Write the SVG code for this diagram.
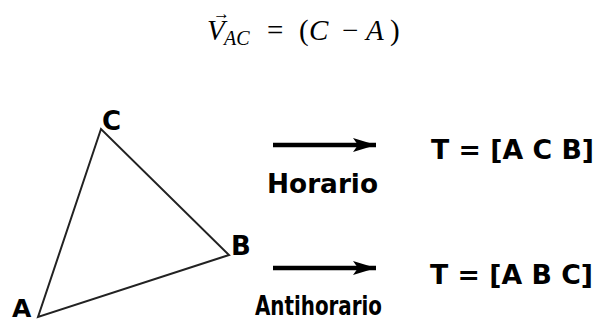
<svg xmlns="http://www.w3.org/2000/svg" width="599" height="320" viewBox="0 0 599 320">
<style>
.lbl{font-family:"DejaVu Sans",Verdana,sans-serif;font-weight:bold;fill:#000}
.m{font-family:"Liberation Serif","Times New Roman",serif;fill:#000}
.it{font-style:italic}
.edge{fill:none;stroke:#222;stroke-width:2;stroke-linejoin:miter}
.shaft{stroke:#000;stroke-width:4.5;fill:none}
</style>
<defs>
<marker id="ah" markerUnits="userSpaceOnUse" markerWidth="26" markerHeight="16" refX="23" refY="7" orient="auto" viewBox="0 0 26 16">
<path d="M0,0 L23,7 L0,14 L5,7 Z" fill="#000"/>
</marker>
</defs>
<rect width="599" height="320" fill="#fff"/>
<g id="formula">
<text class="m it" x="207" y="40" font-size="29">V</text>
<text class="m" x="213" y="19" font-size="17">→</text>
<text class="m it" x="224" y="45" font-size="20">AC</text>
<text class="m" x="267" y="40" font-size="29">=</text>
<text class="m" x="299" y="40" font-size="29">(</text>
<text class="m it" x="309" y="40" font-size="29">C</text>
<text class="m" x="342" y="40" font-size="29">−</text>
<text class="m it" x="366" y="40" font-size="29">A</text>
<text class="m" x="390" y="40" font-size="29">)</text>
</g>
<g id="triangle">
<path class="edge" d="M38,317 L101,129 L229,255 Z"/>
</g>
<g id="vertex-A"><text class="lbl" x="12" y="317" font-size="25">A</text></g>
<g id="vertex-C"><text class="lbl" x="102" y="130" font-size="26">C</text></g>
<g id="vertex-B"><text class="lbl" x="231" y="255" font-size="26">B</text></g>
<g id="connectors">
<line class="shaft" x1="273" y1="145" x2="376" y2="145" marker-end="url(#ah)"/>
<line class="shaft" x1="273" y1="268" x2="376" y2="268" marker-end="url(#ah)"/>
</g>
<g id="horario"><text class="lbl" x="267" y="193" font-size="27" textLength="111" lengthAdjust="spacingAndGlyphs">Horario</text></g>
<g id="antihorario"><text class="lbl" x="255" y="315" font-size="27" font-stretch="condensed" textLength="127" lengthAdjust="spacingAndGlyphs">Antihorario</text></g>
<g id="result-horario"><text class="lbl" x="431" y="159" font-size="27" textLength="163" lengthAdjust="spacingAndGlyphs">T = [A C B]</text></g>
<g id="result-antihorario"><text class="lbl" x="430" y="284" font-size="27" textLength="163" lengthAdjust="spacingAndGlyphs">T = [A B C]</text></g>
</svg>
